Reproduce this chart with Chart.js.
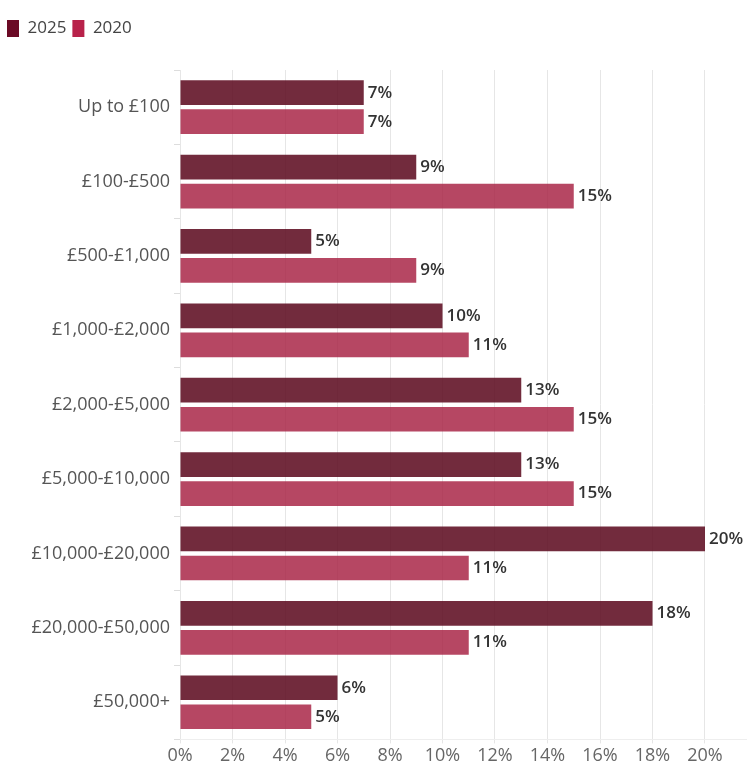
<!DOCTYPE html>
<html>
<head>
<meta charset="utf-8">
<script src="https://cdn.jsdelivr.net/npm/chart.js@4"></script>
<style>
  html, body { margin: 0; padding: 0; background: #fff; }
  #wrap { width: 747px; height: 769px; position: relative; }
</style>
</head>
<body>
<div id="wrap"><canvas id="bandChart"></canvas></div>
<script>
const bands = ["Up to £100", "£100-£500", "£500-£1,000", "£1,000-£2,000", "£2,000-£5,000",
  "£5,000-£10,000", "£10,000-£20,000", "£20,000-£50,000", "£50,000+"];
const share2025 = [7, 9, 5, 10, 13, 13, 20, 18, 6];
const share2020 = [7, 15, 9, 11, 15, 15, 11, 11, 5];
const xTicks = [0, 2, 4, 6, 8, 10, 12, 14, 16, 18, 20];

const fontFamily = "'Open Sans', sans-serif";

// value labels at the end of each bar, allowed to run past the chart area
const barLabels = {
  id: "barLabels",
  afterDatasetsDraw(chart) {
    const ctx = chart.ctx;
    ctx.save();
    ctx.font = "600 17px " + fontFamily;
    ctx.fillStyle = "#333";
    ctx.textBaseline = "middle";
    chart.data.datasets.forEach((ds, i) => {
      chart.getDatasetMeta(i).data.forEach((bar, j) => {
        ctx.fillText(ds.data[j] + "%", bar.x + 4, bar.y);
      });
    });
    ctx.restore();
  }
};

// extra room under the legend
const legendGap = {
  id: "legendGap",
  beforeInit(chart) {
    const fit = chart.legend.fit;
    chart.legend.fit = function () {
      fit.bind(chart.legend)();
      this.height += 23;
    };
  }
};

let bandChart;

const addBandChart = () => {
  let ctx = document.getElementById("bandChart").getContext("2d");

  bandChart = new Chart(ctx, {
    type: "bar",
    data: {
      labels: bands,
      datasets: [
        {
          label: "2025",
          data: share2025,
          backgroundColor: "rgba(89, 6, 27, 0.85)",
          borderWidth: 0,
          barPercentage: 0.85,
          categoryPercentage: 0.78,
        },
        {
          label: "2020",
          data: share2020,
          backgroundColor: "rgba(166, 30, 65, 0.82)",
          borderWidth: 0,
          barPercentage: 0.85,
          categoryPercentage: 0.78,
        },
      ],
    },
    options: {
      indexAxis: "y",
      responsive: true,
      maintainAspectRatio: false,
      animation: false,
      layout: { padding: { left: 1, right: 0, top: 14, bottom: 0 } },
      plugins: {
        tooltip: { enabled: false },
        legend: {
          position: "top",
          align: "start",
          labels: {
            boxWidth: 12,
            boxHeight: 17,
            useBorderRadius: true,
            borderRadius: 3,
            padding: 6,
            color: "#444",
            font: { family: fontFamily, size: 17 },
            generateLabels(chart) {
              const fills = ["#6b0a25", "#b8224a"];
              return chart.data.datasets.map((ds, i) => ({
                text: ds.label,
                fillStyle: fills[i],
                strokeStyle: fills[i],
                lineWidth: 0,
                datasetIndex: i,
                fontColor: "#444",
              }));
            },
          },
        },
      },
      scales: {
        x: {
          min: 0,
          max: 21.6,
          border: { display: true, color: "#eee" },
          grid: { color: "#e6e6e6", drawTicks: true, tickLength: 4 },
          afterBuildTicks(axis) {
            axis.ticks = xTicks.map((v) => ({ value: v }));
          },
          ticks: {
            color: "#666",
            font: { family: fontFamily, size: 18 },
            callback: (v) => v + "%",
            padding: 2,
          },
        },
        y: {
          border: { display: false },
          grid: { color: "#ddd", drawOnChartArea: false, drawTicks: true, tickLength: 6 },
          afterFit(axis) {
            axis.width = 179;
          },
          ticks: {
            color: "#555",
            font: { family: fontFamily, size: 18 },
            padding: 4,
          },
        },
      },
    },
    plugins: [barLabels, legendGap],
  });

  bandChart.update();
};

window.onload = addBandChart;
</script>
</body>
</html>
